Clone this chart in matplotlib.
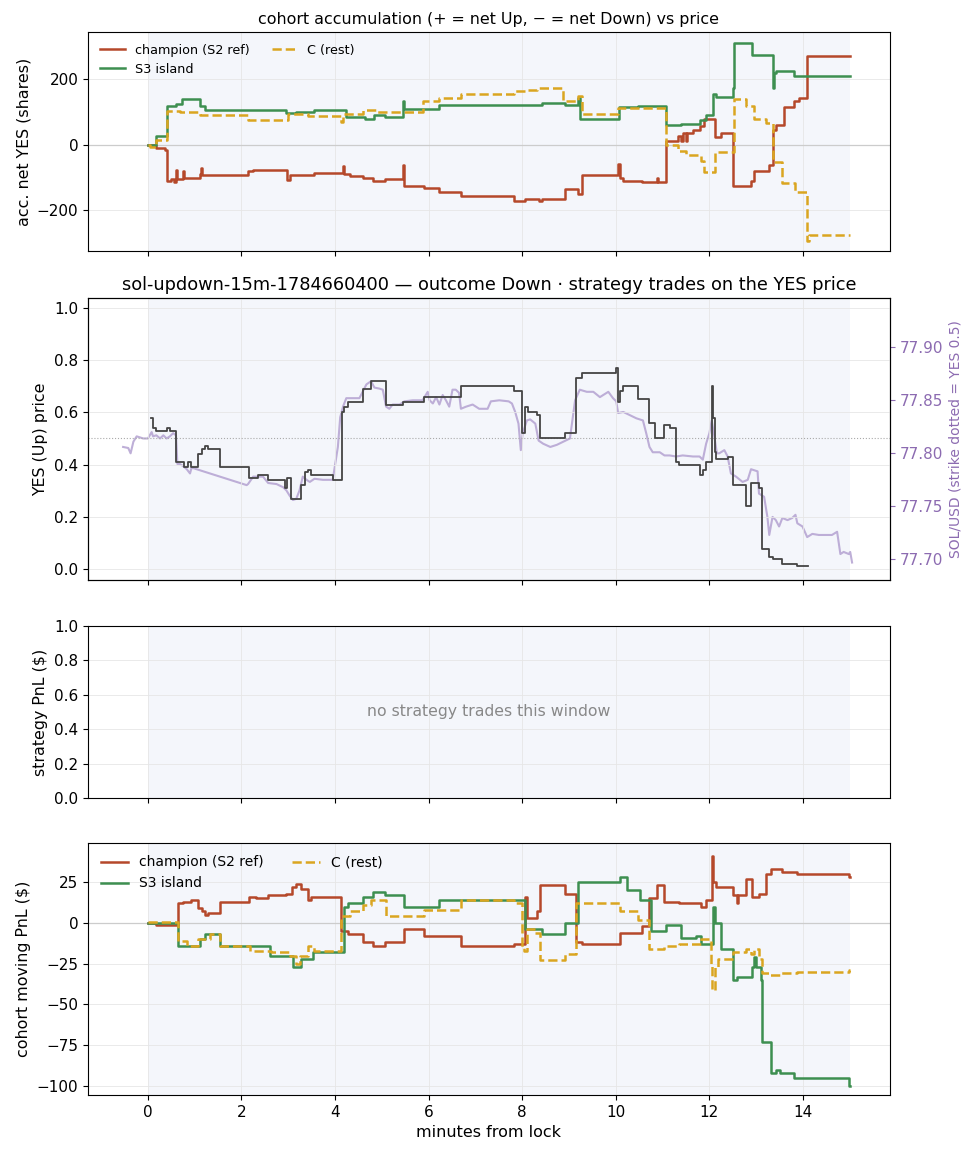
import matplotlib
matplotlib.use("Agg")
import matplotlib.pyplot as plt

# ---- data (minutes from lock) ----
# cohort accumulation, net YES shares
champ_acc_t = [0, 0.18, 0.36, 0.40, 0.50, 0.55, 0.61, 0.63, 0.75, 0.77, 1.11, 1.13, 1.16, 2.14, 2.25,
               2.97, 3.03, 3.10, 3.56, 4.17, 4.20, 4.31, 4.59, 4.81, 5.06, 5.45, 5.47, 5.91, 6.23, 6.69,
               7.82, 8.06, 8.35, 8.42, 8.91, 9.20, 9.27, 10.05, 10.09, 10.16, 10.55, 10.87, 10.90,
               11.08, 11.33, 11.40, 11.43, 11.50, 11.53, 11.65, 11.79, 11.89, 12.11, 12.25, 12.50,
               12.78, 12.89, 12.96, 13.28, 13.35, 13.42, 13.60, 13.81, 13.91, 14.09, 15.0]
champ_acc_v = [0, -10, -15, -110, -103, -112, -78, -104, -80, -102, -90, -72, -91, -80, -76,
               -106, -91, -91, -86, -65, -88, -95, -101, -111, -104, -60, -125, -132, -144, -157,
               -170, -164, -172, -165, -135, -150, -91, -57, -101, -111, -114, -101, -114,
               11, 27, 11, 37, 11, 37, 47, 57, 78, 24, 37, -127,
               -125, -111, -81, -60, 47, 62, 116, 134, 144, 271, 271]

s3_acc_t = [0, 0.18, 0.40, 0.61, 0.72, 1.11, 1.22, 2.96, 3.17, 3.56, 4.24, 4.63, 4.84, 5.06, 5.45, 5.47,
            6.23, 8.42, 8.91, 9.20, 9.23, 10.07, 10.48, 11.08, 11.40, 11.79, 11.93, 12.07, 12.14,
            12.50, 12.53, 12.92, 13.35, 13.38, 13.42, 13.81, 15.0]
s3_acc_v = [0, 27, 120, 125, 139, 118, 108, 98, 102, 108, 86, 78, 92, 86, 134, 111,
            122, 128, 122, 142, 80, 115, 120, 62, 65, 75, 90, 155, 145,
            175, 312, 275, 175, 220, 225, 210, 210]

c_acc_t = [0, 0.04, 0.18, 0.40, 0.68, 1.11, 2.14, 2.99, 3.42, 4.13, 4.17, 4.59, 4.88, 5.38, 5.87, 6.23,
           6.69, 7.82, 8.06, 8.31, 8.88, 9.20, 9.27, 10.05, 11.08, 11.33, 11.50, 11.82, 11.89, 12.11,
           12.53, 12.78, 12.96, 13.21, 13.35, 13.56, 13.84, 14.09, 14.12, 15.0]
c_acc_v = [0, -5, 16, 105, 100, 91, 76, 95, 88, 70, 93, 108, 100, 102, 135, 142,
           157, 164, 169, 174, 134, 149, 93, 113, 0, -19, -31, -50, -84, -22,
           139, 118, 80, 67, -52, -116, -144, -295, -274, -274]

# YES (Up) price, step
yes_t = [0.06, 0.11, 0.18, 0.40, 0.47, 0.61, 0.77, 0.86, 0.93, 1.07, 1.15, 1.22, 1.29, 1.54, 2.16, 2.35,
         2.57, 2.94, 2.97, 3.05, 3.28, 3.35, 3.42, 3.49, 3.95, 4.15, 4.20, 4.27, 4.59, 4.77, 5.09, 5.45,
         5.91, 6.69, 7.82, 7.99, 8.06, 8.13, 8.31, 8.38, 8.91, 9.16, 9.27, 10.01, 10.05, 10.09, 10.16,
         10.48, 10.72, 10.83, 11.04, 11.15, 11.29, 11.36, 11.79, 11.86, 11.93, 12.05, 12.07, 12.11,
         12.14, 12.39, 12.50, 12.78, 12.89, 13.06, 13.13, 13.28, 13.35, 13.56, 13.88, 14.10]
yes_v = [0.58, 0.54, 0.53, 0.54, 0.53, 0.41, 0.39, 0.41, 0.39, 0.44, 0.46, 0.47, 0.46, 0.39, 0.35, 0.36,
         0.34, 0.31, 0.35, 0.27, 0.32, 0.37, 0.38, 0.36, 0.34, 0.60, 0.62, 0.64, 0.69, 0.72, 0.63, 0.64,
         0.66, 0.70, 0.68, 0.52, 0.62, 0.60, 0.59, 0.50, 0.52, 0.73, 0.75, 0.77, 0.64, 0.68, 0.70,
         0.65, 0.56, 0.50, 0.55, 0.54, 0.41, 0.40, 0.36, 0.38, 0.41, 0.70, 0.58, 0.45,
         0.42, 0.43, 0.32, 0.24, 0.33, 0.31, 0.075, 0.045, 0.04, 0.02, 0.01, 0.01]

# SOL/USD spot
sol_t = [-0.53, -0.42, -0.37, -0.31, -0.24, -0.17, -0.10, 0.00, 0.08, 0.11, 0.18, 0.26, 0.33, 0.40, 0.47,
         0.54, 0.60, 0.63, 0.68, 0.75, 0.83, 0.90, 0.93, 0.97, 2.11, 2.14, 2.25, 2.35, 2.46, 2.57, 2.75,
         2.89, 2.96, 3.03, 3.10, 3.17, 3.24, 3.31, 3.39, 3.46, 3.56, 3.74, 3.95, 4.06, 4.11, 4.17, 4.24,
         4.38, 4.52, 4.59, 4.67, 4.77, 4.84, 4.95, 5.02, 5.09, 5.16, 5.23, 5.38, 5.48, 5.66, 5.87, 5.98,
         6.02, 6.09, 6.16, 6.23, 6.30, 6.37, 6.44, 6.51, 6.58, 6.65, 6.69, 6.80, 6.94, 7.08, 7.26, 7.33,
         7.51, 7.71, 7.78, 7.85, 7.92, 7.97, 8.01, 8.10, 8.17, 8.28, 8.35, 8.45, 8.60, 8.74, 8.88, 9.02,
         9.13, 9.23, 9.38, 9.52, 9.66, 9.84, 9.94, 10.01, 10.05, 10.16, 10.30, 10.44, 10.58, 10.65,
         10.72, 10.79, 10.94, 11.04, 11.15, 11.29, 11.43, 11.65, 11.79, 11.86, 11.93, 12.00, 12.05,
         12.11, 12.16, 12.21, 12.32, 12.39, 12.46, 12.57, 12.71, 12.82, 12.89, 13.03, 13.06, 13.17,
         13.24, 13.28, 13.35, 13.42, 13.49, 13.56, 13.67, 13.77, 13.84, 13.88, 13.99, 14.09, 14.20,
         14.34, 14.48, 14.62, 14.73, 14.80, 14.87, 14.98, 15.01, 15.05]
sol_v = [77.806, 77.805, 77.800, 77.811, 77.816, 77.815, 77.814, 77.814, 77.820, 77.816, 77.817, 77.814,
         77.817, 77.814, 77.816, 77.819, 77.817, 77.790, 77.790, 77.788, 77.785, 77.781, 77.786, 77.786,
         77.770, 77.771, 77.778, 77.778, 77.778, 77.772, 77.771, 77.768, 77.765, 77.760, 77.756, 77.757,
         77.765, 77.778, 77.775, 77.773, 77.776, 77.775, 77.775, 77.806, 77.834, 77.844, 77.852, 77.852,
         77.852, 77.858, 77.865, 77.868, 77.862, 77.861, 77.860, 77.844, 77.842, 77.846, 77.846, 77.849,
         77.850, 77.850, 77.858, 77.850, 77.847, 77.853, 77.846, 77.855, 77.850, 77.844, 77.860, 77.860,
         77.857, 77.842, 77.844, 77.846, 77.842, 77.842, 77.849, 77.850, 77.849, 77.847, 77.839, 77.828,
         77.803, 77.819, 77.831, 77.832, 77.828, 77.812, 77.809, 77.806, 77.808, 77.811, 77.814, 77.850,
         77.860, 77.858, 77.858, 77.853, 77.858, 77.852, 77.849, 77.838, 77.839, 77.836, 77.833, 77.831,
         77.819, 77.806, 77.801, 77.801, 77.798, 77.798, 77.797, 77.798, 77.797, 77.797, 77.794, 77.809,
         77.819, 77.831, 77.815, 77.800, 77.800, 77.803, 77.797, 77.781, 77.778, 77.773, 77.775, 77.785,
         77.783, 77.762, 77.759, 77.740, 77.723, 77.740, 77.737, 77.731, 77.739, 77.737, 77.739, 77.742,
         77.734, 77.731, 77.721, 77.724, 77.723, 77.723, 77.723, 77.726, 77.705, 77.707, 77.705, 77.707,
         77.697]
strike = 77.814

# cohort moving PnL ($)
champ_pnl_t = [0, 0.18, 0.65, 0.75, 0.93, 1.07, 1.15, 1.22, 1.29, 1.54, 2.16, 2.32, 2.57, 2.96, 3.07,
               3.17, 3.28, 3.42, 3.49, 4.13, 4.27, 4.59, 4.81, 5.06, 5.48, 5.91, 6.69, 7.82, 8.06, 8.10,
               8.31, 8.38, 8.91, 9.16, 9.27, 10.09, 10.55, 10.72, 10.87, 11.04, 11.36, 11.82, 11.93,
               12.06, 12.08, 12.14, 12.50, 12.60, 12.62, 12.78, 12.92, 13.06, 13.21, 13.31, 13.56,
               13.88, 14.98, 15.0]
champ_pnl_v = [0, -1, 12, 13, 14, 9, 7, 5, 6, 13, 16, 15, 17, 18, 22,
               24, 21, 14, 16, -5, -7, -12, -14, -12, -4, -8, -14, -13, 16, 3,
               7, 23, 18, -12, -13, -6, -2, 15, 23, 13, 12, 10, 14,
               41, 25, 22, 17, 12, 17, 27, 16, 18, 30, 33, 31,
               30, 28, 28]

s3_pnl_t = [0, 0.65, 1.11, 1.22, 1.54, 2.60, 3.10, 3.28, 3.53, 4.20, 4.27, 4.59, 4.81, 5.06, 5.48, 6.23,
            8.06, 8.42, 8.91, 9.20, 10.09, 10.23, 10.51, 10.76, 11.08, 11.40, 11.72, 11.82, 12.07,
            12.11, 12.25, 12.50, 12.60, 12.92, 12.96, 12.99, 13.10, 13.13, 13.31, 13.42, 13.52, 13.81,
            14.98, 15.0]
s3_pnl_v = [0, -14, -10, -7, -14, -20, -27, -22, -18, 10, 12, 16, 19, 17, 10, 14,
            -4, -7, 0, 25, 28, 20, 14, -5, -1, -9, -8, -13, 10,
            0, -16, -35, -33, -27, -21, -27, -35, -73, -92, -90, -92, -95,
            -100, -100]

c_pnl_t = [0, 0.65, 0.83, 1.07, 1.32, 1.54, 2.18, 2.64, 3.03, 3.17, 3.24, 3.42, 3.56, 4.13, 4.31, 4.59,
           4.77, 5.09, 5.91, 6.69, 7.82, 7.99, 8.03, 8.10, 8.28, 8.38, 8.91, 9.16, 10.09, 10.48, 10.72,
           11.04, 11.36, 11.82, 12.04, 12.06, 12.11, 12.18, 12.50, 12.78, 12.89, 12.96, 13.06, 13.13,
           13.28, 13.52, 13.88, 14.98, 15.0]
c_pnl_v = [0.6, -11, -14, -10, -7, -14, -17, -18, -20, -25, -20, -14, -17, 4, 7, 11,
           14, 4, 8, 14, 12, -15, -17, -4, -6, -23, -19, 12, 7, 2, -16,
           -14, -13, -10, -25, -41, -27, -22, -18, -16, -19, -16, -22, -31,
           -32, -31, -30, -29, -29]

cohorts = ["champion (S2 ref)", "S3 island", "C (rest)"]
cohort_colors = ["#b5482a", "#3d8f50", "#daa520"]
cohort_styles = ["-", "-", "--"]

TICK = 11
LAB = 11.4
plt.rcParams["xtick.labelsize"] = TICK
plt.rcParams["ytick.labelsize"] = TICK

# ---- figure ----
fig = plt.figure(figsize=(9.78, 11.56), dpi=100)
L, W = 0.090, 0.820
ax1 = fig.add_axes([L, 0.7829, W, 0.1894])
ax2 = fig.add_axes([L, 0.4983, W, 0.2439], sharex=ax1)
ax3 = fig.add_axes([L, 0.3097, W, 0.1488], sharex=ax1)
ax4 = fig.add_axes([L, 0.0528, W, 0.2180], sharex=ax1)

shade = "#f4f6fb"
for ax in (ax1, ax3, ax4):
    ax.axvspan(0, 15, color=shade, zorder=0, lw=0)
for ax in (ax1, ax2, ax3, ax4):
    ax.grid(True, color="#e6e6e6", lw=0.6, zorder=0.5)
    ax.set_axisbelow(True)

# panel 1: accumulation
ax1.axhline(0, color="#cccccc", lw=0.9, zorder=1)
for t, v, lab, c, ls in zip([champ_acc_t, s3_acc_t, c_acc_t], [champ_acc_v, s3_acc_v, c_acc_v],
                            cohorts, cohort_colors, cohort_styles):
    ax1.step(t, v, where="post", color=c, ls=ls, lw=1.8, label=lab, zorder=3)
ax1.set_ylim(-324, 345)
ax1.set_yticks([-200, 0, 200])
ax1.set_ylabel("acc. net YES (shares)", fontsize=LAB)
ax1.set_title("cohort accumulation (+ = net Up, \u2212 = net Down) vs price", fontsize=11.4)
ax1.legend(loc="upper left", ncol=2, fontsize=9.2, frameon=False, columnspacing=1.7)

# panel 2: price (SOL on twin axis underneath)
ax2r = ax2.twinx()
ax2r.axvspan(0, 15, color=shade, zorder=0, lw=0)
k = 0.2462
ax2r.set_ylim(strike + (-0.042 - 0.5) * k, strike + (1.038 - 0.5) * k)
ax2r.plot(sol_t, sol_v, color="#b7a6d3", lw=1.5, alpha=0.9, zorder=3)
ax2r.set_yticks([77.70, 77.75, 77.80, 77.85, 77.90])
ax2r.tick_params(axis="y", colors="#8c6bb1", labelsize=TICK)
ax2r.set_ylabel("SOL/USD (strike dotted = YES 0.5)", color="#8c6bb1", fontsize=10)
ax2.set_zorder(ax2r.get_zorder() + 1)
ax2.patch.set_visible(False)

ax2.axhline(0.5, color="#aaaaaa", lw=0.8, ls=":", zorder=1)
ax2.step(yes_t, yes_v, where="post", color="#444444", lw=1.3, zorder=4)
ax2.set_ylim(-0.042, 1.038)
ax2.set_yticks([0.0, 0.2, 0.4, 0.6, 0.8, 1.0])
ax2.set_ylabel("YES (Up) price", fontsize=LAB)
ax2.set_title("sol-updown-15m-1784660400 \u2014 outcome Down \u00b7 strategy trades on the YES price",
              fontsize=12.8)

# panel 3: strategy pnl (empty)
ax3.set_ylim(0, 1)
ax3.set_yticks([0.0, 0.2, 0.4, 0.6, 0.8, 1.0])
ax3.set_ylabel("strategy PnL ($)", fontsize=LAB)
ax3.text(0.5, 0.5, "no strategy trades this window", transform=ax3.transAxes,
         ha="center", va="center", color="#888888", fontsize=11.3)

# panel 4: moving pnl
ax4.axhline(0, color="#cccccc", lw=0.9, zorder=1)
for t, v, lab, c, ls in zip([champ_pnl_t, s3_pnl_t, c_pnl_t], [champ_pnl_v, s3_pnl_v, c_pnl_v],
                            cohorts, cohort_colors, cohort_styles):
    ax4.step(t, v, where="post", color=c, ls=ls, lw=1.8, label=lab, zorder=3)
ax4.set_ylim(-105.5, 49)
ax4.set_yticks([-100, -75, -50, -25, 0, 25])
ax4.set_ylabel("cohort moving PnL ($)", fontsize=LAB)
ax4.set_xlabel("minutes from lock", fontsize=11.5)
ax4.legend(loc="upper left", ncol=2, fontsize=10, frameon=False)

ax1.set_xlim(-1.28, 15.86)
ax1.set_xticks([0, 2, 4, 6, 8, 10, 12, 14])
for ax in (ax1, ax2, ax3):
    ax.tick_params(labelbottom=False)

fig.savefig("out.png", dpi=100)
